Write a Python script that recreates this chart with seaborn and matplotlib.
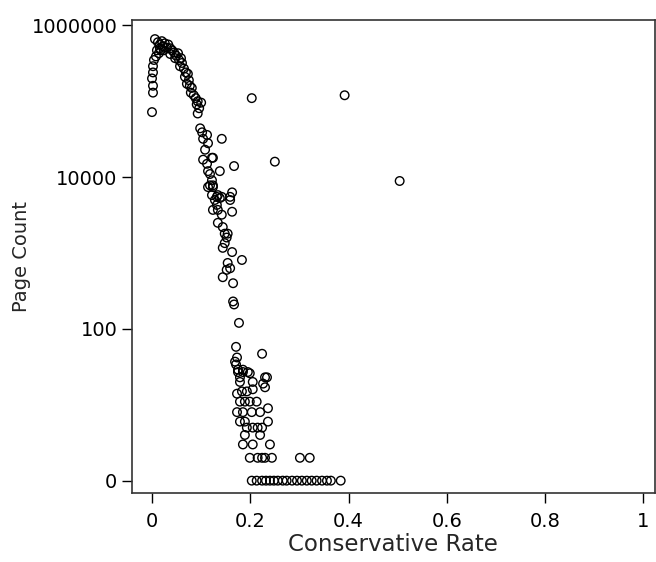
import matplotlib
matplotlib.use("Agg")
import matplotlib.pyplot as plt
import seaborn as sns
import pandas as pd

# Conservative rate vs page count
rate_top = [0.006, 0.012, 0.016, 0.020, 0.022, 0.026, 0.030, 0.016, 0.010, 0.014,
            0.008, 0.004, 0.018, 0.024, 0.033, 0.037, 0.041, 0.037, 0.045, 0.049,
            0.053, 0.047, 0.055, 0.059, 0.061, 0.057, 0.065, 0.069, 0.067, 0.073,
            0.075, 0.071, 0.077, 0.081, 0.079, 0.085, 0.089, 0.093, 0.091, 0.096,
            0.093, 0.100, 0.002, 0.002, 0.000, 0.002, 0.002, 0.000]
count_top = [660000, 600000, 560000, 620000, 530000, 580000, 510000, 500000, 470000, 430000,
             390000, 350000, 470000, 470000, 560000, 500000, 470000, 420000, 440000, 400000,
             430000, 370000, 350000, 370000, 320000, 290000, 270000, 240000, 210000, 230000,
             190000, 170000, 160000, 150000, 130000, 120000, 110000, 100000, 91000, 81000,
             69000, 96000, 290000, 240000, 200000, 160000, 130000, 72000]

rate_mid = [0.098, 0.102, 0.112, 0.104, 0.114, 0.108, 0.104, 0.112, 0.122, 0.124,
            0.114, 0.118, 0.122, 0.114, 0.124, 0.122, 0.132, 0.138, 0.163, 0.159,
            0.142, 0.138, 0.167, 0.118, 0.124, 0.134, 0.142, 0.159, 0.128, 0.132,
            0.124, 0.134, 0.142, 0.163, 0.134, 0.144, 0.148, 0.154, 0.152, 0.148,
            0.144, 0.163, 0.154, 0.159, 0.152, 0.183, 0.144, 0.165, 0.165, 0.167,
            0.177]
count_mid = [44000, 39000, 36000, 32000, 28000, 23000, 17000, 15000, 18000, 18000,
             12000, 11000, 9100, 7400, 7800, 5800, 5500, 5300, 6300, 5500,
             32000, 12000, 14000, 7800, 7400, 5800, 5500, 5000, 5000, 4300,
             3700, 3700, 3200, 3500, 2500, 2200, 1800, 1800, 1600, 1350,
             1170, 1030, 740, 630, 600, 810, 480, 400, 230, 210,
             120]

rate_low = [0.171, 0.173, 0.169, 0.171, 0.224, 0.175, 0.185, 0.195, 0.179, 0.230,
            0.175, 0.185, 0.199, 0.234, 0.226, 0.205, 0.179, 0.173, 0.183, 0.193,
            0.205, 0.230, 0.179, 0.189, 0.199, 0.213, 0.173, 0.185, 0.203, 0.220,
            0.236, 0.179, 0.189, 0.236, 0.193, 0.205, 0.215, 0.224, 0.189, 0.220,
            0.185, 0.205, 0.240, 0.199, 0.215, 0.224, 0.230, 0.244, 0.301, 0.321]
count_low = [58, 42, 37, 34, 47, 29, 29, 27, 23, 23,
             27, 27, 26, 23, 19, 20, 20, 14, 15, 15,
             16, 17, 11, 11, 11, 11, 8, 8, 8, 8,
             9, 6, 6, 6, 5, 5, 5, 5, 4, 4,
             3, 3, 3, 2, 2, 2, 2, 2, 2, 2]

rate_one = [0.203, 0.213, 0.224, 0.232, 0.240, 0.248, 0.256, 0.266, 0.274, 0.285,
            0.295, 0.305, 0.315, 0.325, 0.335, 0.346, 0.356, 0.364, 0.384]
count_one = [1] * len(rate_one)

rate_out = [0.203, 0.392, 0.250, 0.504]
count_out = [110000, 120000, 16000, 8900]

df = pd.DataFrame({
    "rate": rate_top + rate_mid + rate_low + rate_one + rate_out,
    "count": count_top + count_mid + count_low + count_one + count_out,
})

sns.set_style("ticks")
fig = plt.figure(figsize=(6.56, 5.62), dpi=100)
ax = fig.add_axes([0.201, 0.123, 0.797, 0.841])

sns.scatterplot(data=df, x="rate", y="count", ax=ax, s=38,
                facecolors="none", edgecolor="black", linewidth=1.0)

ax.set_yscale("log")
ax.set_ylim(0.69, 1.17e6)
ax.set_xlim(-0.041, 1.023)
ax.set_yticks([1, 100, 10000, 1000000])
ax.set_yticklabels(["0", "100", "10000", "1000000"])
ax.minorticks_off()
ax.set_xticks([0, 0.2, 0.4, 0.6, 0.8, 1.0])
ax.set_xticklabels(["0", "0.2", "0.4", "0.6", "0.8", "1"])
ax.tick_params(axis="both", direction="out", length=7, width=1, labelsize=14, colors="black")
ax.tick_params(axis="x", pad=7)

for sp in ax.spines.values():
    sp.set_color("#333333")
    sp.set_linewidth(1.2)

ax.set_xlabel("Conservative Rate", fontsize=16.5, labelpad=1)
ax.set_ylabel("Page Count", fontsize=14)
ax.yaxis.set_label_coords(-0.193, 0.5)

fig.savefig("out.png", dpi=100)
